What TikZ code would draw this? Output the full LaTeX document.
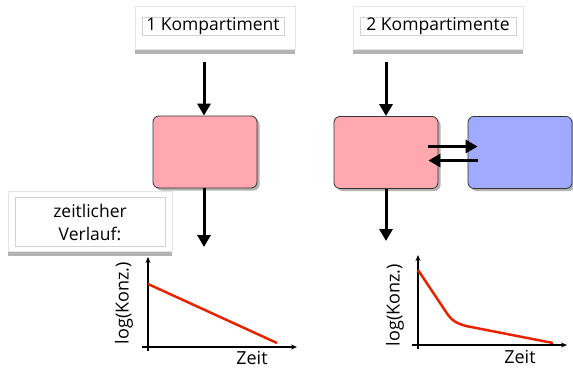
\documentclass[tikz,border=0pt]{standalone}
\usepackage{fontspec}
\setmainfont{Open Sans}
\usetikzlibrary{arrows.meta,shadows,positioning}

\definecolor{rosa}{RGB}{255,168,176}
\definecolor{blau}{RGB}{160,170,255}
\definecolor{kurve}{RGB}{232,35,0}

\begin{document}
\begin{tikzpicture}[x=1pt, y=-1pt,
    card/.style={fill=white, draw=gray!20, drop shadow={shadow xshift=0pt, shadow yshift=-5pt, opacity=0.6}},
    lbl/.style={draw=gray!35, fill=white, inner sep=0.5pt, font=\fontsize{17.5}{23}\selectfont, align=center},
    comp/.style={draw=black!80, line width=0.8pt, rounded corners=6pt, minimum width=104pt, minimum height=72pt,
        drop shadow={shadow xshift=2.5pt, shadow yshift=-2.5pt, opacity=0.6}},
    flow/.style={line width=3pt, -{Triangle[width=13pt,length=12pt]}},
    axis/.style={line width=1.2pt, -{Stealth[length=6pt,width=5pt]}},
    curve/.style={draw=kurve, line width=2.5pt},
    txt/.style={font=\fontsize{18}{20}\selectfont},
]
\useasboundingbox (0,0) rectangle (573,369);

% Title cards
\node[card, minimum width=160pt, minimum height=43pt] (card1) at (215,28) {};
\node[lbl, minimum width=142pt, minimum height=18pt] (title1) at (213,26) {1 Kompartiment};
\node[card, minimum width=170pt, minimum height=43pt] (card2) at (438,28) {};
\node[lbl, minimum width=156pt, minimum height=18pt] (title2) at (438,26) {2 Kompartimente};

% Compartments
\node[comp, fill=rosa] (box1) at (205,152) {};
\node[comp, fill=rosa] (box2) at (386,152.5) {};
\node[comp, fill=blau] (box3) at (520,152.5) {};

% In- and outflow
\coordinate (in1) at (204,62);
\coordinate (out1) at (204,247);
\coordinate (in2) at (386,62);
\coordinate (out2) at (386,241);
\draw[flow] (in1) -- (box1.north -| in1);
\draw[flow] (box1.south -| out1) -- (out1);
\draw[flow] (in2) -- (box2.north -| in2);
\draw[flow] (box2.south -| out2) -- (out2);

% Exchange between compartments
\draw[flow] ([xshift=-10pt,yshift=6pt]box2.east) -- ([xshift=10pt,yshift=6pt]box3.west);
\draw[flow] ([xshift=10pt,yshift=-8pt]box3.west) -- ([xshift=-10pt,yshift=-8pt]box2.east);

% Time course card
\node[card, minimum width=164pt, minimum height=60pt] (card3) at (90,221) {};
\node[lbl, minimum width=150pt, minimum height=49pt] (title3) at (90,222) {zeitlicher\\Verlauf:};

% Graph 1
\coordinate (x1a) at (142,347);
\coordinate (x1b) at (297,347);
\coordinate (y1a) at (148,351);
\coordinate (y1b) at (148,257);
\draw[axis] (x1a) -- (x1b);
\draw[axis] (y1a) -- (y1b);
\draw[curve] (148,284) -- (277,343);
\node[txt] (zeit1) at (252,358) {Zeit};
\node[txt, rotate=90] (konz1) at (124,303) {log(Konz.)};

% Graph 2
\coordinate (x2a) at (412,345);
\coordinate (x2b) at (567,345);
\coordinate (y2a) at (418,349);
\coordinate (y2b) at (418,255);
\draw[axis] (x2a) -- (x2b);
\draw[axis] (y2a) -- (y2b);
\draw[curve] (418,270) -- (446,312) .. controls (452,321) and (456,323) .. (466,326) -- (553,343);
\node[txt] (zeit2) at (520,357) {Zeit};
\node[txt, rotate=90] (konz2) at (395,305) {log(Konz.)};

\end{tikzpicture}
\end{document}
